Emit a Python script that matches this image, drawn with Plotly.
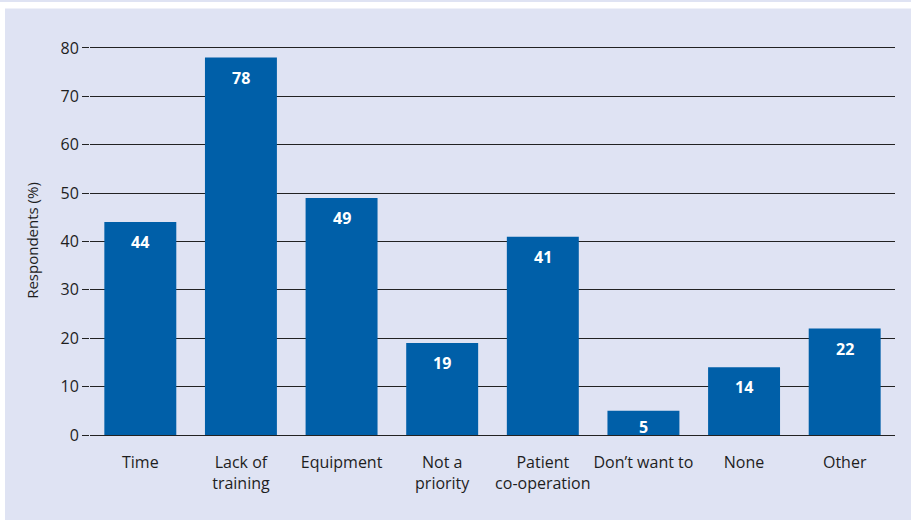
import plotly.graph_objects as go

categories = ["Time", "Lack of<br>training", "Equipment", "Not a<br>priority",
              "Patient<br>co-operation", "Don\u2019t want to", "None", "Other"]
values = [44, 78, 49, 19, 41, 5, 14, 22]
y_ticks = [0, 10, 20, 30, 40, 50, 60, 70, 80]

BG = "#dfe3f3"
BAR = "#005fa8"
FONT = "Open Sans, sans-serif"
TXT = "#1e1e1e"

W, H = 911, 520
Y_TOP = 80.4
PX80, PX0 = 48, 435
px_per_unit = (PX0 - PX80) / 80.0
ML, MR = 90, 16
MB = H - PX0
MT = round(PX80 - (Y_TOP - 80) * px_per_unit)
plot_h = H - MT - MB

fig = go.Figure()
fig.add_trace(go.Bar(
    x=categories, y=values, marker=dict(color=BAR, line=dict(width=0)),
    hoverinfo="skip",
))

annotations = []
for c, v in zip(categories, values):
    h = v * px_per_unit
    shift = -min(7, max(0, (h - 18) / 2))
    annotations.append(dict(
        x=c, y=v, xref="x", yref="y", text=f"<b>{v}</b>", showarrow=False,
        yanchor="top", yshift=shift,
        font=dict(family=FONT, size=16, color="white"),
    ))

def px_x(p):
    return (p - ML) / (W - ML - MR)

def px_y(p):
    return (H - MB - p) / plot_h

shapes = [
    dict(type="rect", xref="paper", yref="paper", layer="below",
         x0=px_x(-5), x1=px_x(W + 5), y0=px_y(8.5), y1=px_y(2),
         fillcolor="white", line=dict(width=0)),
    dict(type="rect", xref="paper", yref="paper", layer="below",
         x0=px_x(-5), x1=px_x(5), y0=px_y(H + 5), y1=px_y(2),
         fillcolor="white", line=dict(width=0)),
]

fig.update_layout(
    width=W, height=H,
    margin=dict(l=ML, r=MR, t=MT, b=MB),
    paper_bgcolor=BG, plot_bgcolor=BG,
    bargap=0.285,
    showlegend=False,
    font=dict(family=FONT, size=16, color=TXT),
    annotations=annotations,
    shapes=shapes,
    xaxis=dict(
        showgrid=False, ticks="", showline=False, zeroline=False,
        tickfont=dict(family=FONT, size=16, color=TXT),
        ticklabelstandoff=16,
        fixedrange=True,
    ),
    yaxis=dict(
        range=[0, Y_TOP], tickvals=y_ticks,
        showgrid=True, gridcolor="#222222", gridwidth=1.3,
        zeroline=True, zerolinecolor="#222222", zerolinewidth=1.3,
        ticks="outside", ticklen=7, tickcolor="#222222", tickwidth=1.3,
        showline=False,
        tickfont=dict(family=FONT, size=16, color=TXT),
        title=dict(text="Respondents (%)", standoff=18,
                   font=dict(family=FONT, size=15, color=TXT)),
        fixedrange=True,
    ),
)

fig.write_html("out.html")
